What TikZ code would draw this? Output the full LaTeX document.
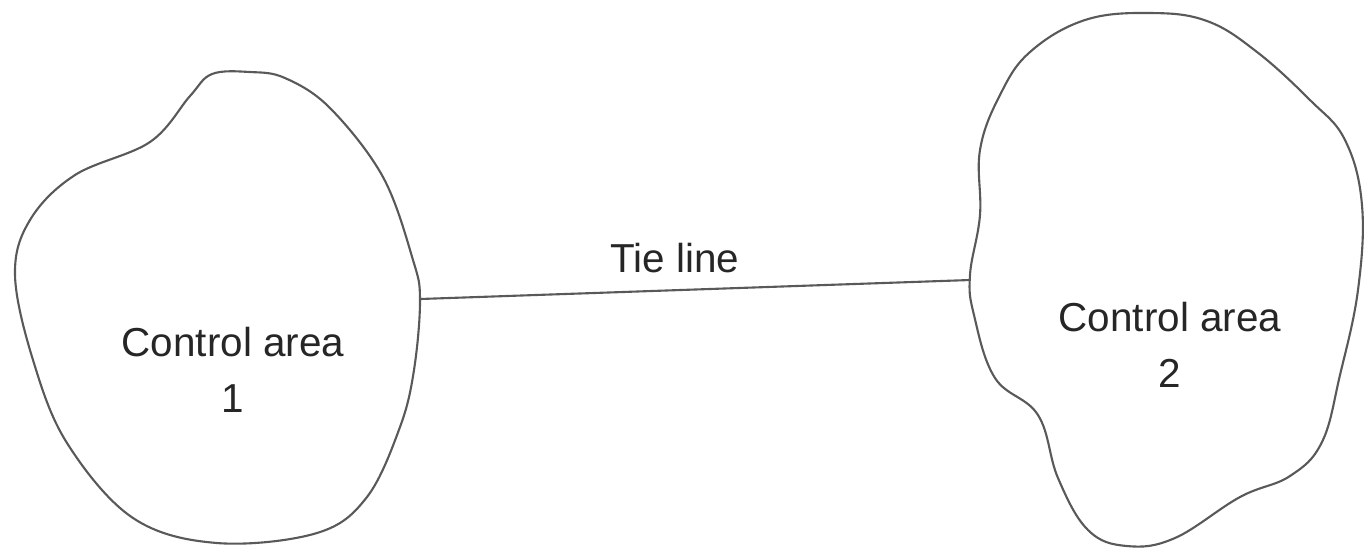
\documentclass[tikz,border=0pt]{standalone}
\usepackage{fontspec}
\setmainfont{Liberation Sans}
\begin{document}
\begin{tikzpicture}[x=0.01cm,y=-0.01cm,
  blob/.style={draw=black!65,line width=0.6pt},
  tie/.style={draw=black!65,line width=0.6pt},
  lbl/.style={align=center,font=\fontsize{11.5}{16}\selectfont,text=black!85,inner sep=0pt}]
\useasboundingbox (0,0) rectangle (1365,547);
\draw[blob] plot[smooth cycle,tension=0.6] coordinates {
 (190,96) (212,74) (250,72) (285,78) (330,108) (383,177) (413,260) (420,300)
 (414,370) (400,427) (367,497) (317,533) (217,543) (133,518) (67,443) (33,360)
 (15,275) (30,220) (75,175) (150,142)};
\draw[blob] plot[smooth cycle,tension=0.65] coordinates {
 (1150,13) (1207,21) (1257,52) (1310,100) (1345,140) (1362,205) (1358,290)
 (1340,375) (1322,442) (1290,476) (1240,497) (1175,538) (1127,546) (1088,530)
 (1058,478) (1038,415) (995,378) (974,315) (970,275) (980,215) (980,150)
 (1000,95) (1030,52) (1085,20)};
\coordinate (a1) at (420,299);
\coordinate (a2) at (970,280);
\draw[tie] (a1) -- (a2);
\node[lbl] (tl) at (675,258) {Tie line};
\node[lbl] (c1) at (233,370) {Control area\\1};
\node[lbl] (c2) at (1170,345) {Control area\\2};
\end{tikzpicture}
\end{document}
